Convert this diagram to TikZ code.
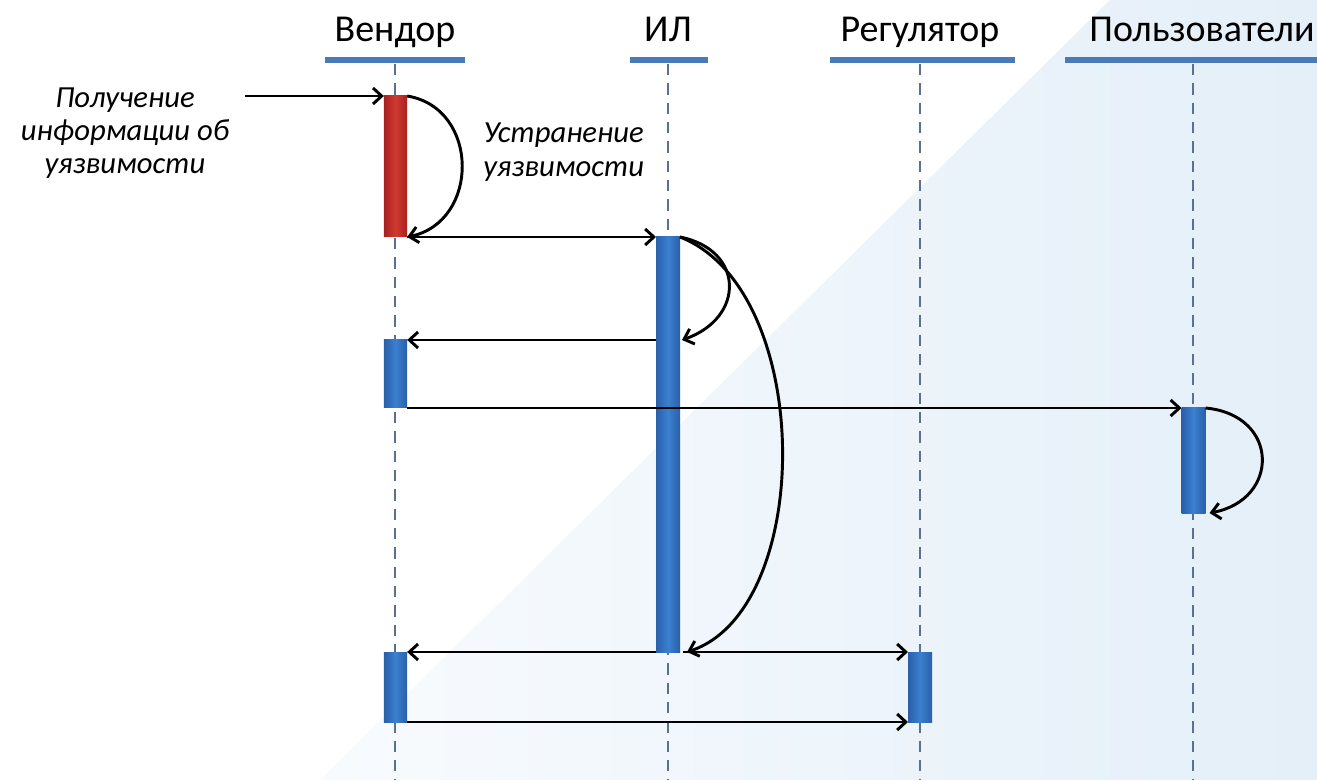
\documentclass[tikz,border=0pt]{standalone}
\usepackage{fontspec}
\setmainfont{Carlito}
\usetikzlibrary{arrows.meta,calc}
\definecolor{lifec}{HTML}{5B7090}
\definecolor{headc}{HTML}{4A7AB8}
\definecolor{bluel}{HTML}{2A5FA8}
\definecolor{bluem}{HTML}{3A80D0}
\definecolor{redl}{HTML}{A82020}
\definecolor{redm}{HTML}{D03A30}
\definecolor{bgA}{HTML}{F8FBFE}
\definecolor{bgB}{HTML}{E4EFF8}
\tikzset{
  title/.style={font=\fontsize{28.5}{32}\selectfont, inner sep=0, anchor=base},
  note/.style={font=\itshape\fontsize{23}{25}\selectfont, inner sep=0},
  head/.style={draw=headc, line width=3.8pt},
  life/.style={draw=lifec, line width=1.8pt, dash pattern=on 8.5pt off 6pt},
  act/.style={rectangle, inner sep=0, outer sep=0, minimum width=17.5pt,
    left color=bluel, right color=bluel, middle color=bluem},
  actred/.style={act, left color=redl, right color=redl, middle color=redm},
  arr/.style={draw=black, line width=2.2pt, -{Straight Barb[length=6.5pt,width=12pt]}},
}
\begin{document}
\begin{tikzpicture}[x=0.75pt,y=-0.75pt]
\useasboundingbox (0,0) rectangle (1317,780);
\fill[white] (0,0) rectangle (1317,780);
\shade[left color=bgA, right color=bgB] (1110,0) -- (1317,0) -- (1317,780) -- (320,780) -- cycle;
% titles and header bars
\node[title] (tV) at (395,42) {Вендор};
\node[title] (tI) at (668,42) {ИЛ};
\node[title] (tR) at (920,42) {Регулятор};
\node[title] (tU) at (1202,42) {Пользователи};
\draw[head] (325,60) -- (465,60);
\draw[head] (630,60) -- (708,60);
\draw[head] (830,60) -- (1015,60);
\draw[head] (1065,60) -- (1317,60);
% lifelines
\draw[life] (395,64) -- (395,780);
\draw[life] (668,64) -- (668,780);
\draw[life] (920,64) -- (920,780);
\draw[life] (1193,64) -- (1193,780);
% activation boxes
\node[actred, minimum height=105.75pt] (V1) at (395.5,166.5) {};
\node[act, minimum width=18pt, minimum height=311.25pt] (IL) at (668,444.5) {};
\node[act, minimum height=51pt] (V2) at (395.5,374) {};
\node[act, minimum width=18pt, minimum height=78.75pt] (U) at (1193.5,460.5) {};
\node[act, minimum height=52.5pt] (V3) at (395.5,687) {};
\node[act, minimum width=18pt, minimum height=52.5pt] (R) at (920,687) {};
% texts
\node[note, align=center] (nIn) at (125,133) {Получение\\информации об\\уязвимости};
\node[note, align=left, anchor=west] (nFix) at (483,152) {Устранение\\уязвимости};
% arrows
\coordinate (inp) at (245,96);
\draw[arr] (inp) -- (V1.north west);
\draw[arr] (V1.north east) .. controls (480,108) and (480,222) .. (V1.south east);
\draw[arr] (V1.south east) -- (IL.north west);
\coordinate (ilm) at ($(IL.east |- V2.north)+(2,0)$);
\draw[arr] (IL.north east) .. controls (745,250) and (745,318) .. (ilm);
\coordinate (ilb) at ($(IL.south east)+(7,0)$);
\draw[arr] (IL.north east) .. controls (815,290) and (815,610) .. (ilb);
\draw[arr] (IL.west |- V2.north) -- (V2.north east);
\draw[arr] (V2.south east) -- (U.north west);
\coordinate (ub) at ($(U.south east)+(4,0)$);
\draw[arr] (U.north east) .. controls (1280,415) and (1280,500) .. (ub);
\draw[arr] (IL.south west) -- (V3.north east);
\draw[arr] ($(IL.south east)+(3,0)$) -- (R.north west);
\draw[arr] (V3.south east) -- (R.south west);
\end{tikzpicture}
\end{document}
